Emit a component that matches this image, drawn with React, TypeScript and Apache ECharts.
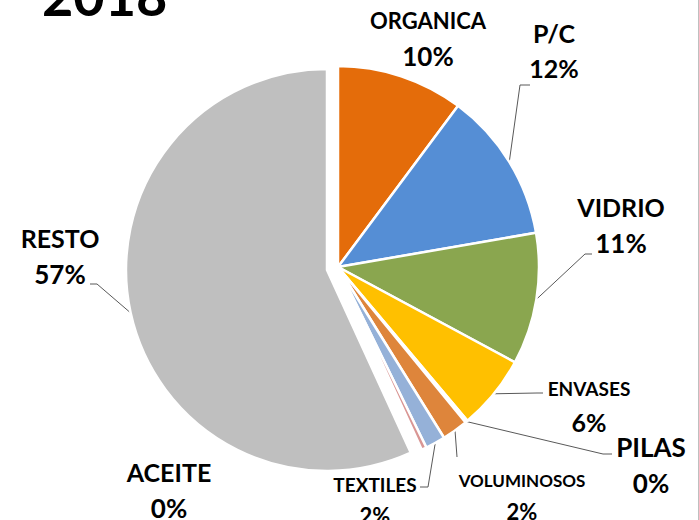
import React, { useEffect, useRef } from "react";
import * as echarts from "echarts";

const categories = ["ORGANICA", "P/C", "VIDRIO", "ENVASES", "PILAS", "VOLUMINOSOS", "TEXTILES", "ACEITE", "RESTO"];
const values = [10.2, 12.1, 10.6, 6.0, 0.2, 2.1, 1.6, 0.4, 56.9];
const title = "2018";

const colors = ["#E46C0A", "#558ED5", "#8AA64F", "#FFC000", "#7F7F7F", "#DE853B", "#95B1D8", "#D99694", "#BFBFBF"];
const EXPLODED = "RESTO";
// label block centres, name font size, pct font size, line height
const labelPos: number[][] = [
  [428, 38], [554, 50], [621, 225], [589, 405], [651, 465], [522, 496], [375, 500], [169, 490], [60, 256],
];
const nameSize = [22, 25, 25, 19, 26, 17, 19, 25, 25];
const pctSize = [26, 25, 26, 25, 26, 22, 22, 26, 26];
const lineH = [36, 35, 36, 34, 36, 31, 31, 36, 36];
// leader-line bends (after the slice anchor point)
const guideBends: (number[][] | null)[] = [
  null,
  [[520, 85], [530, 85]],
  [[585, 254], [592, 254]],
  [[537, 393], [543, 393]],
  [[603, 454], [612, 454]],
  [[457, 457]],
  [[428, 487], [420, 487]],
  null,
  [[97, 284], [90, 284]],
];

export default function App() {
  const ref = useRef<HTMLDivElement>(null);
  useEffect(() => {
    const chart = echarts.init(ref.current!, undefined, { renderer: "svg" });
    const makeData = (exploded: boolean) =>
      categories.map((c, i) => {
        const visible = (c === EXPLODED) === exploded;
        return {
          name: c,
          value: values[i],
          itemStyle: visible
            ? { color: colors[i], borderColor: "#fff", borderWidth: 2.5 }
            : { color: "rgba(0,0,0,0)", borderWidth: 0 },
          label: {
            show: visible,
            formatter: `{n|${c}}\n{p|${Math.round(values[i])}%}`,
            rich: {
              n: { fontFamily: "Lato", fontWeight: "bold", fontSize: nameSize[i], lineHeight: lineH[i], color: "#000" },
              p: { fontFamily: "Lato", fontWeight: "bold", fontSize: pctSize[i], lineHeight: lineH[i], color: "#000" },
            },
          },
          labelLine: { show: visible && guideBends[i] != null },
        };
      });
    const layout = (p: any) => {
      const out: any = {
        x: labelPos[p.dataIndex][0],
        y: labelPos[p.dataIndex][1],
        align: "center",
        verticalAlign: "middle",
      };
      const bends = guideBends[p.dataIndex];
      if (bends && p.labelLinePoints && p.labelLinePoints.length) {
        out.labelLinePoints = [p.labelLinePoints[0], ...bends];
      }
      return out;
    };
    const base = {
      type: "pie",
      radius: 201,
      startAngle: 90,
      clockwise: true,
      avoidLabelOverlap: false,
      emphasis: { disabled: true },
      label: { show: true, position: "outside" },
      labelLine: { show: true, length: 10, length2: 8, lineStyle: { color: "#595959", width: 1 } },
      labelLayout: layout,
    };
    chart.setOption({
      animation: false,
      backgroundColor: "#fff",
      graphic: [
        {
          type: "text",
          left: 42,
          top: -32,
          style: { text: title, fontFamily: "Lato", fontWeight: "bold", fontSize: 54, fill: "#000" },
        },
        {
          type: "line",
          shape: { x1: 698.5, y1: 0, x2: 698.5, y2: 520 },
          style: { stroke: "#BFBFBF", lineWidth: 1 },
        },
      ],
      series: [
        { ...base, center: [338, 267], data: makeData(false) },
        { ...base, center: [327, 270], data: makeData(true) },
      ],
    });
    return () => chart.dispose();
  }, []);
  return <div ref={ref} style={{ position: "fixed", left: 0, top: 0, width: 699, height: 520 }} />;
}
